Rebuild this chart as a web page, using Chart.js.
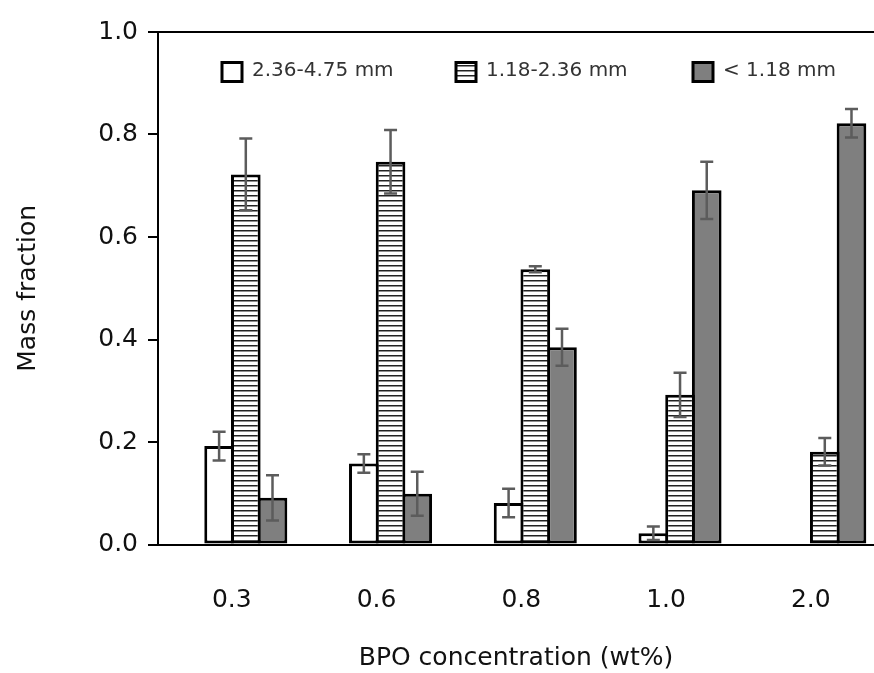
<!doctype html>
<html>
<head>
    <title>Mass fraction vs BPO concentration</title>
    <script src="https://cdn.jsdelivr.net/npm/chart.js"></script>
    <style>
        html, body { margin: 0; padding: 0; background: #fff; }
        #wrap { width: 874px; height: 673px; }
    </style>
</head>
<body>
    <div id="wrap">
        <canvas id="grafico"></canvas>
    </div>

    <script>
        // categorias (concentracao de BPO, wt%)
        var categorias = ['0.3', '0.6', '0.8', '1.0', '2.0'];

        // fracao massica por faixa de tamanho
        var graosGrossos = [0.192, 0.158, 0.081, 0.022, null];   // 2.36-4.75 mm
        var graosMedios  = [0.722, 0.747, 0.537, 0.292, 0.181];  // 1.18-2.36 mm
        var graosFinos   = [0.091, 0.099, 0.385, 0.691, 0.822];  // < 1.18 mm

        // barras de erro (+/-)
        var erroGrossos = [0.028, 0.018, 0.028, 0.013, null];
        var erroMedios  = [0.070, 0.062, 0.006, 0.043, 0.027];
        var erroFinos   = [0.044, 0.043, 0.036, 0.056, 0.028];

        var ticksY = [0, 0.2, 0.4, 0.6, 0.8, 1.0];

        var fonte = 'DejaVu Sans';

        // padrao de listras horizontais
        function criaListras() {
            var c = document.createElement('canvas');
            c.width = 8;
            c.height = 5;
            var g = c.getContext('2d');
            g.fillStyle = '#ffffff';
            g.fillRect(0, 0, 8, 5);
            g.fillStyle = '#222';
            g.fillRect(0, 0, 8, 1.5);
            return g.createPattern(c, 'repeat');
        }
        var listras = criaListras();

        function pontos(valores) {
            return categorias.map((c, i) => ({ x: i, y: valores[i] }));
        }

        // desenha as barras de erro usando as escalas do grafico
        var pluginErros = {
            id: 'barrasErro',
            afterDatasetsDraw(chart) {
                var ctx = chart.ctx;
                var escalaY = chart.scales.y;
                chart.data.datasets.forEach((ds, i) => {
                    var meta = chart.getDatasetMeta(i);
                    meta.data.forEach((barra, j) => {
                        var v = ds.data[j].y;
                        var e = ds.erros[j];
                        if (v == null || e == null) return;
                        var yTopo = escalaY.getPixelForValue(v + e);
                        var yBase = escalaY.getPixelForValue(v - e);
                        var x = barra.x;
                        ctx.save();
                        ctx.strokeStyle = '#5c5c5c';
                        ctx.lineWidth = 2.5;
                        ctx.beginPath();
                        ctx.moveTo(x, yTopo);
                        ctx.lineTo(x, yBase);
                        ctx.moveTo(x - 6.5, yTopo);
                        ctx.lineTo(x + 6.5, yTopo);
                        ctx.moveTo(x - 6.5, yBase);
                        ctx.lineTo(x + 6.5, yBase);
                        ctx.stroke();
                        ctx.restore();
                    });
                });
            }
        };

        // legenda dentro da area do grafico
        var pluginLegenda = {
            id: 'legendaInterna',
            afterDraw(chart) {
                var ctx = chart.ctx;
                var posX = [222, 456, 693];
                var yMeio = 72;
                ctx.save();
                chart.data.datasets.forEach((ds, i) => {
                    var x = posX[i];
                    ctx.fillStyle = ds.backgroundColor;
                    ctx.fillRect(x, yMeio - 9.5, 20, 19);
                    ctx.strokeStyle = '#000';
                    ctx.lineWidth = 3;
                    ctx.strokeRect(x, yMeio - 9.5, 20, 19);
                    ctx.fillStyle = '#333';
                    ctx.font = '20px "' + fonte + '"';
                    ctx.textBaseline = 'middle';
                    ctx.textAlign = 'left';
                    ctx.fillText(ds.label, x + 30, yMeio - 1);
                });
                ctx.restore();
            }
        };

        var estiloBarra = {
            borderColor: '#000',
            borderWidth: 3,
            borderSkipped: false,
            categoryPercentage: 0.5534,
            barPercentage: 1.11
        };

        var grafico = new Chart(document.getElementById('grafico').getContext('2d'), {
            type: 'bar',
            data: {
                datasets: [
                    Object.assign({ label: '2.36-4.75 mm', backgroundColor: '#ffffff', data: pontos(graosGrossos), erros: erroGrossos }, estiloBarra),
                    Object.assign({ label: '1.18-2.36 mm', backgroundColor: listras, data: pontos(graosMedios), erros: erroMedios }, estiloBarra),
                    Object.assign({ label: '< 1.18 mm', backgroundColor: '#7f7f7f', data: pontos(graosFinos), erros: erroFinos }, estiloBarra)
                ]
            },
            options: {
                responsive: true,
                maintainAspectRatio: false,
                animation: false,
                layout: { padding: { top: 32, right: 0, bottom: 0, left: 0 } },
                plugins: {
                    legend: { display: false },
                    tooltip: { enabled: false }
                },
                scales: {
                    x: {
                        type: 'linear',
                        offset: false,
                        min: -0.6066,
                        max: 4.34,
                        afterBuildTicks: (escala) => {
                            escala.ticks = categorias.map((c, i) => ({ value: i }));
                        },
                        afterFit: (escala) => {
                            escala.height = 128.5;
                            escala.paddingLeft = 0;
                            escala.paddingRight = 0;
                        },
                        grid: { display: false, drawTicks: false, offset: false },
                        border: { display: true, color: '#000', width: 2 },
                        ticks: {
                            callback: (v) => categorias[v],
                            color: '#111',
                            font: { family: fonte, size: 25 },
                            padding: 41,
                            labelOffset: -14,
                            maxRotation: 0
                        },
                        title: {
                            display: true,
                            text: 'BPO concentration (wt%)',
                            color: '#111',
                            font: { family: fonte, size: 25 },
                            padding: { top: 0, bottom: 0 }
                        }
                    },
                    y: {
                        min: 0,
                        max: 1,
                        afterBuildTicks: (escala) => {
                            escala.ticks = ticksY.map((v) => ({ value: v }));
                        },
                        afterFit: (escala) => { escala.width = 158; },
                        grid: {
                            color: (ctx) => ctx.tick && ctx.tick.value === 1 ? '#000' : 'rgba(0,0,0,0)',
                            tickColor: '#000',
                            lineWidth: 2,
                            tickLength: 10
                        },
                        border: { display: true, color: '#000', width: 2 },
                        ticks: {
                            callback: (v) => v.toFixed(1),
                            color: '#111',
                            font: { family: fonte, size: 25 },
                            padding: 10
                        },
                        title: {
                            display: true,
                            text: 'Mass fraction',
                            color: '#111',
                            font: { family: fonte, size: 25 },
                            padding: { top: 13, bottom: 0 }
                        }
                    }
                }
            },
            plugins: [pluginErros, pluginLegenda]
        });
    </script>
</body>
</html>
